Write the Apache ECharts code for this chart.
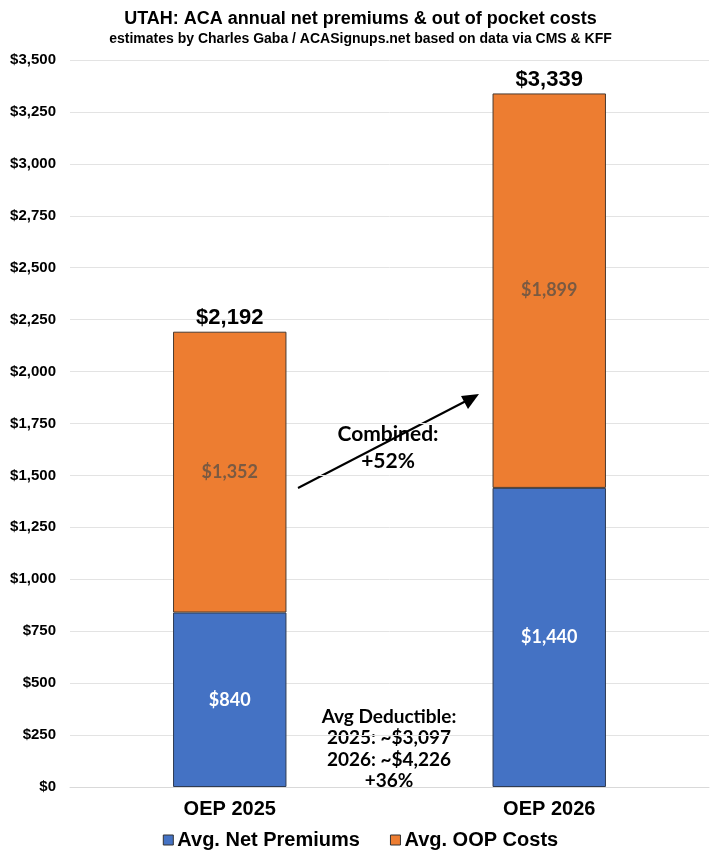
<!DOCTYPE html>
<html><head><meta charset="utf-8">
<script src="https://cdn.jsdelivr.net/npm/echarts@6/dist/echarts.min.js"></script>
<style>html,body{margin:0;padding:0;background:#fff}#c{width:721px;height:864px}</style>
</head><body><div id="c"></div>
<script>
const categories = ['OEP 2025', 'OEP 2026'];
const netPremiums = [840, 1440];
const oopCosts = [1352, 1899];
const totals = [2192, 3339];
const yTicks = { min: 0, max: 3500, interval: 250 };

const chart = echarts.init(document.getElementById('c'));
const sans = "'Liberation Sans',Arial,sans-serif";
const cal = "Lato,'Open Sans',sans-serif";
const money = v => '$' + v.toLocaleString('en-US');
chart.setOption({
  animation: false,
  title: [
    { text: 'UTAH: ACA annual net premiums & out of pocket costs', left: 'center', top: 5,
      textStyle: { fontFamily: sans, fontWeight: 'bold', fontSize: 18, color: '#000' } },
    { text: 'estimates by Charles Gaba / ACASignups.net based on data via CMS & KFF', left: 'center', top: 27,
      textStyle: { fontFamily: sans, fontWeight: 'bold', fontSize: 14, color: '#000' } }
  ],
  legend: {
    bottom: 9, left: 'center', itemWidth: 10, itemHeight: 10, itemGap: 30, icon: 'rect',
    data: ['Avg. Net Premiums', 'Avg. OOP Costs'],
    itemStyle: { borderColor: '#333', borderWidth: 1 },
    textStyle: { fontFamily: sans, fontWeight: 'bold', fontSize: 20, color: '#000', padding: [0, 0, 0, -1] }
  },
  grid: { left: 70, right: 12, top: 60, bottom: 77 },
  xAxis: {
    type: 'category', data: categories,
    axisLine: { lineStyle: { color: '#d9d9d9' } }, axisTick: { show: false },
    axisLabel: { fontFamily: sans, fontWeight: 'bold', fontSize: 20, color: '#000', margin: 12 }
  },
  yAxis: {
    type: 'value', min: yTicks.min, max: yTicks.max, interval: yTicks.interval,
    splitLine: { lineStyle: { color: '#e3e3e3' } },
    axisLine: { show: false }, axisTick: { show: false },
    axisLabel: { fontFamily: sans, fontWeight: 'bold', fontSize: 15, color: '#000', margin: 14, formatter: money }
  },
  series: [
    { name: 'Avg. Net Premiums', type: 'bar', stack: 's', data: netPremiums, barWidth: '35.5%',
      itemStyle: { color: '#4472C4', borderColor: '#2f3b52', borderWidth: 1 },
      label: { show: true, position: 'inside', color: '#fff', fontFamily: cal, fontWeight: 'bold', fontSize: 18,
        formatter: p => money(p.value) } },
    { name: 'Avg. OOP Costs', type: 'bar', stack: 's', data: oopCosts, barWidth: '35.5%',
      itemStyle: { color: '#ED7D31', borderColor: '#4a3a30', borderWidth: 1 },
      label: { show: true, position: 'inside', color: '#7a5a42', fontFamily: cal, fontWeight: 'bold', fontSize: 18,
        formatter: p => money(p.value) } },
    { name: 'total', type: 'bar', data: totals, barWidth: '35.5%', barGap: '-100%', silent: true,
      itemStyle: { color: 'rgba(0,0,0,0)' },
      label: { show: true, position: 'top', distance: 3, color: '#000', fontFamily: sans, fontWeight: 'bold', fontSize: 22,
        formatter: p => money(p.value) } }
  ],
  graphic: [
    { type: 'line', shape: { x1: 298, y1: 488, x2: 466, y2: 401 }, style: { stroke: '#000', lineWidth: 2 } },
    { type: 'polygon', shape: { points: [[479, 394], [461, 396], [468, 409]] }, style: { fill: '#000' } },
    { type: 'text', x: 388, y: 421, style: { text: 'Combined:\n+52%', align: 'center', fill: '#000',
      font: "bold 21px Lato, 'Open Sans', sans-serif", lineHeight: 27 } },
    { type: 'text', x: 389, y: 706, style: { text: 'Avg Deductible:\n2025: ~$3,097\n2026: ~$4,226\n+36%', align: 'center', fill: '#000',
      font: "bold 19px Lato, 'Open Sans', sans-serif", lineHeight: 21.5 } }
  ]
});
</script></body></html>
